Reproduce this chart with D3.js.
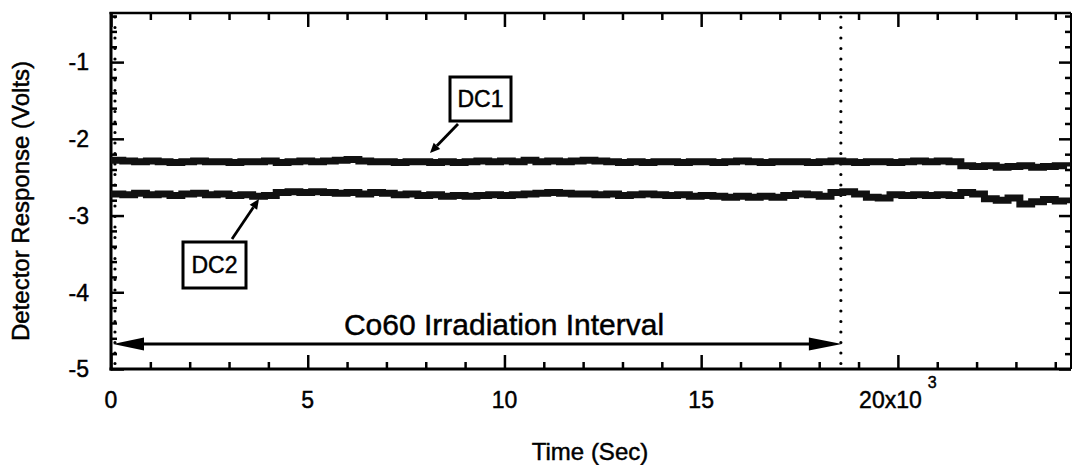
<!DOCTYPE html>
<html>
<head>
<meta charset="utf-8">
<script src="https://cdn.jsdelivr.net/npm/d3@7"></script>
<style>
  body { margin: 0; background: #fff; }
  svg { display: block; font-family: Arial, "Liberation Sans", sans-serif; }
  svg text { stroke: #000; stroke-width: 0.45px; }
</style>
</head>
<body>
<div id="chart"></div>
<script>
// sample times (s), one reading every 300 s
const times = d3.range(0, 24301, 300);

// detector DC1 (V)
const dc1 = [
  -2.28, -2.29, -2.30, -2.29, -2.30, -2.31, -2.30, -2.29, -2.30, -2.30,
  -2.31, -2.30, -2.30, -2.29, -2.31, -2.30, -2.29, -2.30, -2.29, -2.28,
  -2.27, -2.29, -2.30, -2.30, -2.31, -2.30, -2.30, -2.31, -2.30, -2.31,
  -2.30, -2.29, -2.30, -2.29, -2.30, -2.28, -2.30, -2.29, -2.30, -2.29,
  -2.28, -2.29, -2.30, -2.31, -2.30, -2.31, -2.30, -2.30, -2.31, -2.30,
  -2.30, -2.31, -2.30, -2.29, -2.30, -2.31, -2.30, -2.30, -2.30, -2.31,
  -2.30, -2.29, -2.30, -2.31, -2.30, -2.30, -2.31, -2.30, -2.29, -2.30,
  -2.29, -2.30, -2.35, -2.36, -2.35, -2.37, -2.36, -2.35, -2.37, -2.36,
  -2.35, -2.36
];

// detector DC2 (V)
const dc2 = [
  -2.72, -2.73, -2.71, -2.73, -2.72, -2.74, -2.72, -2.71, -2.73, -2.72,
  -2.74, -2.73, -2.75, -2.74, -2.70, -2.69, -2.70, -2.69, -2.70, -2.71,
  -2.70, -2.72, -2.70, -2.71, -2.73, -2.72, -2.74, -2.73, -2.75, -2.74,
  -2.75, -2.74, -2.73, -2.74, -2.73, -2.72, -2.71, -2.70, -2.71, -2.72,
  -2.72, -2.73, -2.72, -2.74, -2.73, -2.72, -2.73, -2.74, -2.73, -2.75,
  -2.74, -2.75, -2.76, -2.75, -2.76, -2.75, -2.76, -2.74, -2.72, -2.73,
  -2.75, -2.70, -2.69, -2.72, -2.76, -2.77, -2.73, -2.74, -2.73, -2.74,
  -2.73, -2.74, -2.70, -2.72, -2.78, -2.80, -2.77, -2.85, -2.82, -2.79,
  -2.81, -2.84
];

const xMajor = [0, 5000, 10000, 15000, 20000];
const xLabels = ["0", "5", "10", "15", "20x10"];
const yMajor = [-5, -4, -3, -2, -1];
const yLabels = ["-5", "-4", "-3", "-2", "-1"];

// irradiation interval (s)
const irrStart = 50;
const irrEnd = 18500;

const width = 1072, height = 465;
const mLeft = 111, mRight = 1071, mTop = 13, mBottom = 369;

const x = d3.scaleLinear().domain([0, 24400]).range([mLeft, mRight]);
const y = d3.scaleLinear().domain([-5, -0.36]).range([mBottom, mTop]);

const svg = d3.select("#chart").append("svg")
    .attr("width", width)
    .attr("height", height);

// minor ticks (inward)
const xMinor = d3.range(0, 24400, 1000).filter(d => d % 5000 !== 0);
const yMinor = d3.range(-5, -0.36, 0.2).map(d => +d.toFixed(1)).filter(d => Math.abs(d - Math.round(d)) > 0.01);

function tickGroup(axis, tr) {
    return svg.append("g")
        .attr("transform", tr)
        .call(axis)
        .call(g => g.select(".domain").remove())
        .call(g => g.selectAll(".tick line").attr("stroke", "#000").attr("stroke-width", 2.5));
}

tickGroup(d3.axisBottom(x).tickValues(xMinor).tickSize(-7).tickFormat(""), `translate(0,${mBottom})`);
tickGroup(d3.axisBottom(x).tickValues(xMajor).tickSize(-14).tickFormat(""), `translate(0,${mBottom})`);
tickGroup(d3.axisTop(x).tickValues(xMinor).tickSize(-7).tickFormat(""), `translate(0,${mTop})`);
tickGroup(d3.axisTop(x).tickValues(xMajor).tickSize(-14).tickFormat(""), `translate(0,${mTop})`);
tickGroup(d3.axisLeft(y).tickValues(yMinor).tickSize(-6).tickFormat(""), `translate(${mLeft},0)`);
tickGroup(d3.axisLeft(y).tickValues(yMajor).tickSize(-13).tickFormat(""), `translate(${mLeft},0)`);
tickGroup(d3.axisRight(y).tickValues(yMinor).tickSize(-6).tickFormat(""), `translate(${mRight},0)`);
tickGroup(d3.axisRight(y).tickValues(yMajor).tickSize(-12).tickFormat(""), `translate(${mRight},0)`);

// frame
svg.append("line").attr("x1", mLeft).attr("x2", mLeft).attr("y1", mTop - 1).attr("y2", mBottom + 1.5)
    .attr("stroke", "#000").attr("stroke-width", 3);
svg.append("line").attr("x1", mLeft - 1.5).attr("x2", mRight).attr("y1", mBottom).attr("y2", mBottom)
    .attr("stroke", "#000").attr("stroke-width", 3);
svg.append("line").attr("x1", mLeft - 1.5).attr("x2", mRight).attr("y1", mTop).attr("y2", mTop)
    .attr("stroke", "#000").attr("stroke-width", 2.5);
svg.append("line").attr("x1", mRight).attr("x2", mRight).attr("y1", mTop).attr("y2", mBottom)
    .attr("stroke", "#000").attr("stroke-width", 2);

// tick labels
const xl = svg.append("g").attr("font-size", 23).attr("text-anchor", "middle");
xMajor.forEach((d, i) => {
    const t = xl.append("text").attr("x", x(d)).attr("y", 408).text(xLabels[i]);
    if (d === 20000) {
        t.append("tspan").attr("font-size", 16).attr("dx", 6).attr("dy", -20).text("3");
    }
});
svg.append("g").attr("font-size", 23).attr("text-anchor", "end")
    .selectAll("text").data(yMajor).join("text")
    .attr("x", 89).attr("y", d => y(d)).attr("dy", "0.36em")
    .text((d, i) => yLabels[i]);

// axis titles
svg.append("text").attr("x", 590).attr("y", 460).attr("text-anchor", "middle")
    .attr("font-size", 24).text("Time (Sec)");
svg.append("text").attr("transform", "translate(29,201) rotate(-90)").attr("text-anchor", "middle")
    .attr("font-size", 24).text("Detector Response (Volts)");

// dotted markers for start / end of irradiation
[irrStart, irrEnd].forEach(t => {
    svg.append("line")
        .attr("x1", x(t) + 2).attr("x2", x(t) + 2)
        .attr("y1", mTop + 4).attr("y2", mBottom - 2)
        .attr("stroke", "#000").attr("stroke-width", 3.2)
        .attr("stroke-linecap", "round")
        .attr("stroke-dasharray", "0,10.5");
});

// series
const line = d3.line().x((d, i) => x(times[i])).y(d => y(d)).curve(d3.curveStepAfter);
[dc1, dc2].forEach(s => {
    svg.append("path").datum(s)
        .attr("fill", "none").attr("stroke", "#111")
        .attr("stroke-width", 7).attr("d", line);
});

// irradiation interval arrow
const ay = 344, ax0 = x(0) + 2, ax1 = x(irrEnd) + 3;
svg.append("line").attr("x1", ax0 + 20).attr("x2", ax1 - 20).attr("y1", ay).attr("y2", ay)
    .attr("stroke", "#000").attr("stroke-width", 2.8);
svg.append("path").attr("d", `M${ax0},${ay} L${ax0 + 31},${ay - 6.5} L${ax0 + 31},${ay + 6.5} Z`);
svg.append("path").attr("d", `M${ax1},${ay} L${ax1 - 33},${ay - 6.5} L${ax1 - 33},${ay + 6.5} Z`);
svg.append("text").attr("x", 504).attr("y", 335).attr("text-anchor", "middle")
    .attr("font-size", 30).text("Co60 Irradiation Interval");

// callout boxes
function callout(bx, by, bw, bh, label, from, to) {
    svg.append("rect").attr("x", bx).attr("y", by).attr("width", bw).attr("height", bh)
        .attr("fill", "#fff").attr("stroke", "#000").attr("stroke-width", 3);
    svg.append("text").attr("x", bx + bw / 2).attr("y", by + bh / 2).attr("dy", "0.36em")
        .attr("text-anchor", "middle").attr("font-size", 23).text(label);
    const ang = Math.atan2(to[1] - from[1], to[0] - from[0]);
    const hl = 10, hw = 4.5;
    const bxp = to[0] - hl * Math.cos(ang), byp = to[1] - hl * Math.sin(ang);
    svg.append("line").attr("x1", from[0]).attr("y1", from[1]).attr("x2", bxp).attr("y2", byp)
        .attr("stroke", "#000").attr("stroke-width", 2.8);
    svg.append("path").attr("d",
        `M${to[0]},${to[1]} L${bxp - hw * Math.sin(ang)},${byp + hw * Math.cos(ang)} L${bxp + hw * Math.sin(ang)},${byp - hw * Math.cos(ang)} Z`);
}
callout(450, 77, 61, 44, "DC1", [458, 124], [430, 153]);
callout(183, 242, 63, 46, "DC2", [232, 239], [259, 199]);
</script>
</body>
</html>
